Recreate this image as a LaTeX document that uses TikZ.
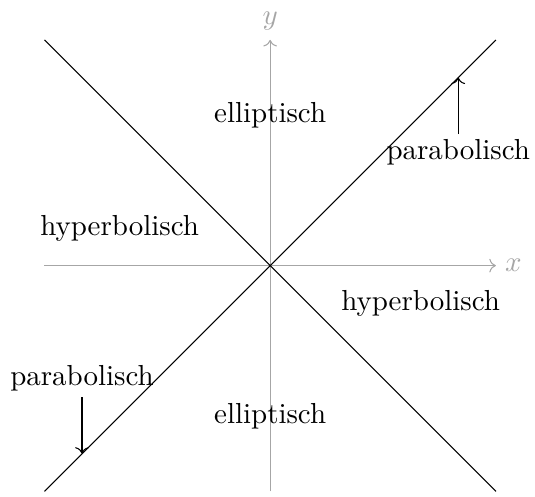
\documentclass[tikz,border=0pt]{standalone}
\usepackage{tikz}
\usetikzlibrary{arrows.meta, positioning}

\begin{document}
\begin{tikzpicture}[font=\fontsize{10.95}{13.6}\selectfont,
        axis/.style={->, gray!70},
        lbl/.style={inner sep=2pt}]
        \useasboundingbox (-3.59,-3.07) rectangle (3.52,3.53);
        \draw[axis] (-3,0) -- (3,0) node[right] (xl) {$x$};
        \draw[axis] (0,-3) -- (0,3) node[above] (yl) {$y$};
        \coordinate (o) at (0,0);
        \coordinate (ne) at (3,3);
        \coordinate (sw) at (-3,-3);
        \coordinate (nw) at (-3,3);
        \coordinate (se) at (3,-3);
        \draw (sw) -- (ne);
        \draw (nw) -- (se);
        \node[lbl] (ell1) at (0,2) {elliptisch};
        \node[lbl] (ell2) at (0,-2) {elliptisch};
        \node[lbl] (hyp1) at (-2,0.5) {hyperbolisch};
        \node[lbl] (hyp2) at (2,-0.5) {hyperbolisch};
        \node[lbl] (par1) at (2.5,1.5) {parabolisch};
        \node[lbl] (par2) at (-2.5,-1.5) {parabolisch};
        \coordinate (t1) at (2.5,2.5);
        \coordinate (t2) at (-2.5,-2.5);
        \draw[->] (par1) -- (t1);
        \draw[->] (par2) -- (t2);
    \end{tikzpicture}
\end{document}
